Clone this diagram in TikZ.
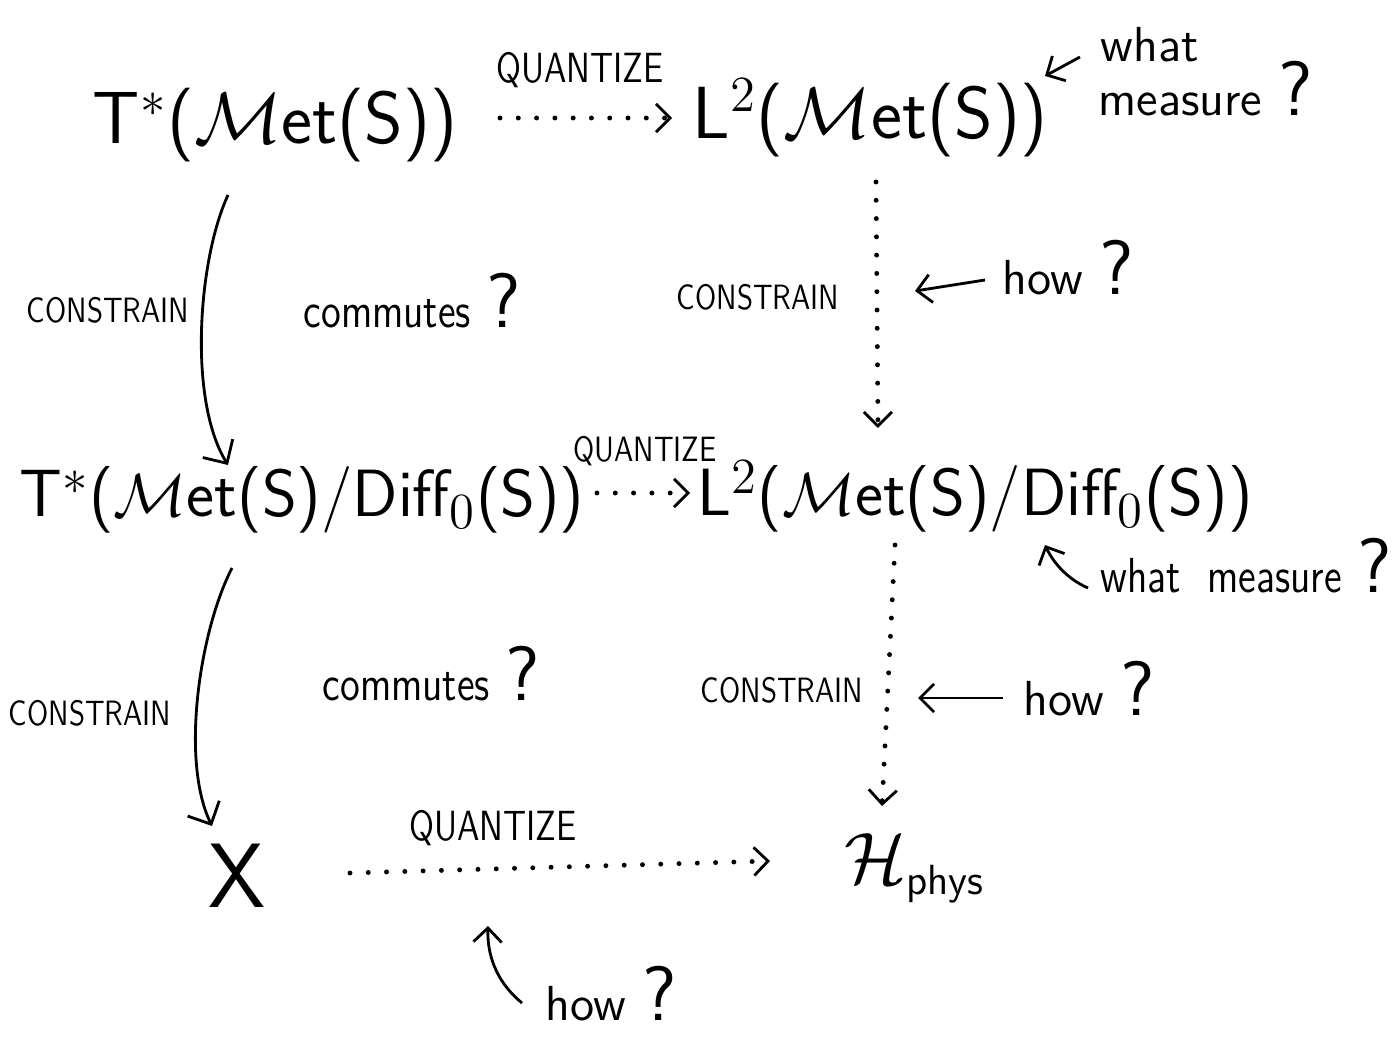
\documentclass[tikz,border=0pt]{standalone}
\usepackage{graphicx}
\usetikzlibrary{arrows.meta}
\newcommand{\qm}{{\fontsize{22}{24}\selectfont ?}}
\newcommand{\narrow}[1]{\scalebox{0.82}[1]{#1}}
\begin{document}
\begin{tikzpicture}[x=0.01cm,y=-0.01cm,
  big/.style={font=\sffamily\fontsize{21}{24}\selectfont, inner sep=0},
  mid/.style={font=\sffamily\fontsize{19}{22}\selectfont, inner sep=0},
  lab/.style={font=\sffamily\fontsize{10}{11}\selectfont, inner sep=0},
  qlab/.style={font=\sffamily\fontsize{12}{13}\selectfont, inner sep=0},
  note/.style={font=\sffamily\fontsize{14}{17}\selectfont, inner sep=0, anchor=base west},
  dotarrow/.style={line width=1.4pt, dash pattern=on 0pt off 5.2pt, line cap=round,
     -{Straight Barb[length=4pt,width=8pt,line width=0.8pt]}},
  solidarrow/.style={line width=0.8pt, -{Straight Barb[length=5pt,width=10pt]}},
  thinarrow/.style={line width=0.8pt, -{Straight Barb[length=4pt,width=8pt]}}]
\useasboundingbox (0,0) rectangle (1397,1046);

% row 1
\node[big] (a) at (275,125) {T$^*$($\mathcal{M}$et(S))};
\node[big] (b) at (870,118) {L$^2$($\mathcal{M}$et(S))};
\node[qlab] (q1) at (580,70) {\narrow{QUANTIZE}};
\coordinate (q1s) at (500,118);
\coordinate (q1e) at (672,118);
\draw[dotarrow] (q1s) -- (q1e);

\node[note] (wm1a) at (1100,62) {what};
\node[note] (wm1b) at (1098,116) {measure \qm};
\coordinate (wm1s) at (1080,57);
\coordinate (wm1e) at (1045,76);
\draw[thinarrow] (wm1s) -- (wm1e);

% row 1 -> row 2
\coordinate (c1s) at (228,195);
\coordinate (c1e) at (228,465);
\draw[solidarrow] (c1s) .. controls (198,260) and (188,400) .. (c1e);
\node[lab] (k1) at (108,310) {\narrow{CONSTRAIN}};
\node[note] (cm1) at (303,328) {\narrow{commutes} \qm};

\coordinate (d1s) at (876,182);
\coordinate (d1e) at (878,428);
\draw[dotarrow] (d1s) -- (d1e);
\node[lab] (k2) at (758,297) {\narrow{CONSTRAIN}};
\node[note] (h1) at (1002,295) {how \qm};
\coordinate (h1s) at (985,280);
\coordinate (h1e) at (915,291);
\draw[thinarrow] (h1s) -- (h1e);

% row 2
\node[mid] (c) at (302,500) {T$^*$($\mathcal{M}$et(S)/Diff$_0$(S))};
\node[mid] (d) at (975,497) {L$^2$($\mathcal{M}$et(S)/Diff$_0$(S))};
\node[lab] (q2) at (645,451) {\narrow{QUANTIZE}};
\coordinate (q2s) at (597,493);
\coordinate (q2e) at (690,493);
\draw[dotarrow] (q2s) -- (q2e);

\node[note] (wm2) at (1100,592) {\narrow{what \ measure} \qm};
\coordinate (wm2s) at (1088,588);
\coordinate (wm2e) at (1045,545);
\draw[thinarrow] (wm2s) .. controls (1065,578) and (1052,560) .. (wm2e);

% row 2 -> row 3
\coordinate (c2s) at (232,568);
\coordinate (c2e) at (212,826);
\draw[solidarrow] (c2s) .. controls (200,630) and (180,760) .. (c2e);
\node[lab] (k3) at (90,713) {\narrow{CONSTRAIN}};
\node[note] (cm2) at (322,700) {\narrow{commutes} \qm};

\coordinate (d2s) at (895,545);
\coordinate (d2e) at (882,806);
\draw[dotarrow] (d2s) -- (d2e);
\node[lab] (k4) at (782,690) {\narrow{CONSTRAIN}};
\node[note] (h2) at (1023,715) {how \qm};
\coordinate (h2s) at (1003,698);
\coordinate (h2e) at (918,698);
\draw[thinarrow] (h2s) -- (h2e);

% row 3
\node[font=\sffamily\fontsize{26}{30}\selectfont, inner sep=0] (x) at (237,876) {X};
\node[big] (h) at (915,868) {$\mathcal{H}_{\textsf{\fontsize{12}{13}\selectfont phys}}$};
\node[qlab] (q3) at (493,828) {\narrow{QUANTIZE}};
\coordinate (q3s) at (350,873);
\coordinate (q3e) at (770,861);
\draw[dotarrow] (q3s) -- (q3e);

\node[note] (h3) at (545,1020) {how \qm};
\coordinate (h3s) at (522,1003);
\coordinate (h3e) at (488,926);
\draw[thinarrow] (h3s) .. controls (500,985) and (487,960) .. (h3e);
\end{tikzpicture}
\end{document}
